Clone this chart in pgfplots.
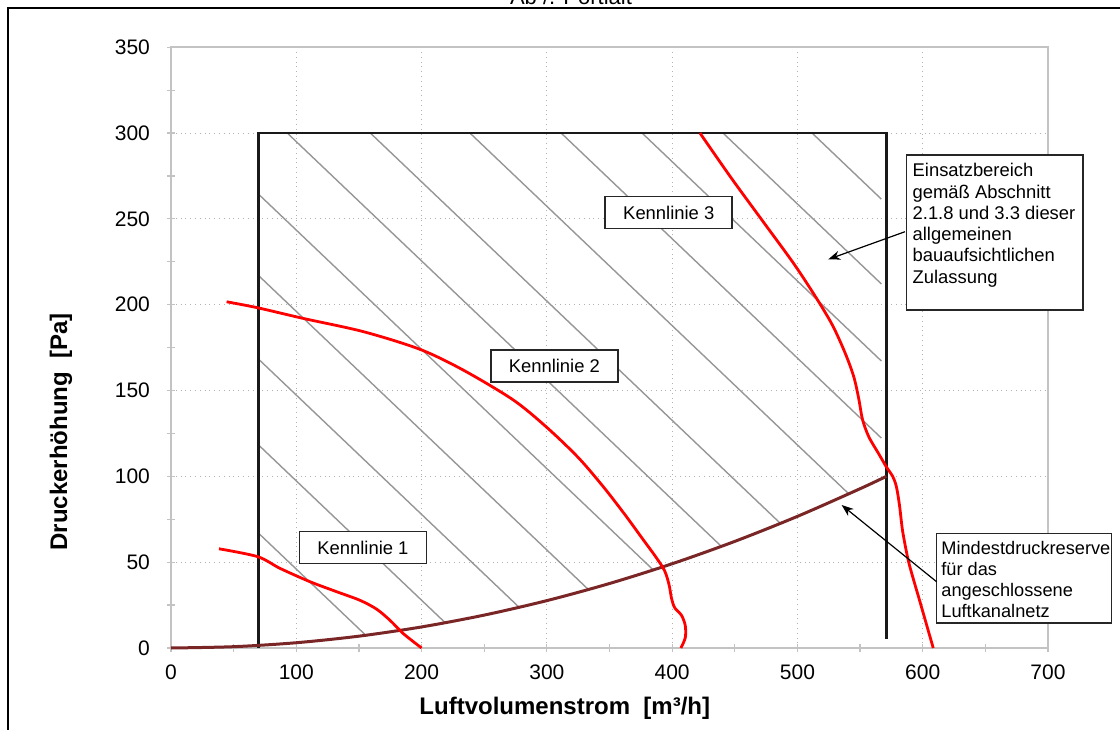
\documentclass[border=0pt]{standalone}
\usepackage{fontspec}
\setmainfont{Liberation Sans}
\usepackage{pgfplots}
\pgfplotsset{compat=1.18}
\usetikzlibrary{arrows.meta}

\definecolor{kurve}{RGB}{255,0,0}
\definecolor{netz}{RGB}{122,38,38}
\definecolor{schraff}{RGB}{150,150,150}
\definecolor{achse}{RGB}{195,195,195}

\begin{document}
\begin{tikzpicture}
\begin{axis}[
    scale only axis,
    width=438.5pt, height=300.4pt,
    xmin=0, xmax=700, ymin=0, ymax=350,
    xtick={0,100,...,700}, ytick={0,50,...,350},
    minor xtick={50,150,...,650}, minor ytick={25,75,...,325},
    xtick pos=bottom, ytick pos=left,
    xmajorgrids, ymajorgrids,
    major grid style={gray!60, dotted, line width=0.5pt},
    axis line style={achse, line width=0.8pt},
    major tick style={achse, line width=0.6pt},
    minor tick style={achse, line width=0.6pt},
    major tick length=4pt, minor tick length=4pt,
    tick align=center,
    /pgf/number format/assume math mode=true,
    ticklabel style={font=\fontsize{10.5}{12}\selectfont},
    xticklabel style={yshift=-3pt},
    yticklabel style={xshift=-5pt},
    xlabel={Luftvolumenstrom\ \ [m³/h]},
    ylabel={Druckerhöhung\ \ [Pa]},
    label style={font=\bfseries\fontsize{12}{14}\selectfont},
    xlabel style={at={(rel axis cs:0.449,-0.1)}, anchor=center},
    ylabel style={at={(rel axis cs:-0.1254,0.36)}, anchor=center},
    clip=false,
    hatch/.style={schraff, line width=0.7pt, forget plot},
    kennl/.style={kurve, line width=1.4pt, smooth, tension=0.5},
]

% Schraffur des Einsatzbereichs
\addplot[hatch] coordinates {(92.8,300) (439.3,59.2)};
\addplot[hatch] coordinates {(159.1,300) (486.4,72.6)};
\addplot[hatch] coordinates {(238.6,300) (541.0,89.8)};
\addplot[hatch] coordinates {(311.4,300) (567,122.3)};
\addplot[hatch] coordinates {(376.0,300) (567,167.2)};
\addplot[hatch] coordinates {(440.6,300) (567,212.1)};
\addplot[hatch] coordinates {(511.7,300) (567,261.5)};
\addplot[hatch] coordinates {(70,264.3) (384.9,45.5)};
\addplot[hatch] coordinates {(70,216.9) (333.1,34.1)};
\addplot[hatch] coordinates {(70,168.2) (277.9,23.7)};
\addplot[hatch] coordinates {(70,118.2) (218.9,14.7)};
\addplot[hatch] coordinates {(70,66.8) (155.5,7.4)};

% Einsatzbereich
\addplot[black!90, line width=1.3pt, line join=miter] coordinates {(70,0) (70,300) (571,300) (571,5)};

% Anlagenkennlinie (Luftkanalnetz)
\addplot[netz, line width=1.5pt, smooth] coordinates {
  (0,0) (50,0.77) (100,3.07) (150,6.90) (200,12.27) (250,19.17) (300,27.60)
  (350,37.57) (400,49.07) (450,62.11) (500,76.68) (550,92.78) (571,100)};

% Kennlinie 1
\addplot[kennl] coordinates {
  (38.3,57.8) (69.2,53.2) (87,46.4) (111,38.6) (132.2,32.8) (150.8,27.8)
  (164.2,22.6) (175,16) (185.4,8.4) (200,0)};

% Kennlinie 2
\addplot[kennl] coordinates {
  (44.4,201.7) (69.2,198.2) (105.6,192) (153.5,184.3) (198.7,174) (233.3,161.9)
  (273.2,144.5) (300,128.5) (325,111) (345,94) (362,78) (376,64) (387,53)
  (394,45) (397.5,37) (399.5,29) (402,23.5) (407.5,19) (410.5,13) (410.5,6) (407,0)};

% Kennlinie 3
\addplot[kennl] coordinates {
  (422.2,300) (447,274) (472,249) (497,224) (515,204) (528,188) (538,172)
  (545,158) (549,145) (552,133) (557,123) (565,113) (571,105.5) (576,100)
  (579,94) (581.5,83) (584,68) (588.4,51.3) (593,39) (597.8,27) (608.4,0)};

% Beschriftungen
\tikzset{kl/.style={draw=black!85, line width=0.8pt, fill=white, minimum width=63.5pt,
  minimum height=16pt, inner sep=0pt, font=\fontsize{9.2}{11}\selectfont}}
\node[kl] at (axis cs:153.2,58.5) {Kennlinie 1};
\node[kl] at (axis cs:306,164.2) {Kennlinie 2};
\node[kl] at (axis cs:397.3,253.7) {Kennlinie 3};

\draw[black!85, line width=0.8pt, fill=white] (axis cs:587.2,287.2) rectangle (axis cs:728.1,196.9);
\node[anchor=north west, align=left, inner sep=0pt, font=\fontsize{9.2}{10.65}\selectfont]
  at ([xshift=2.8pt, yshift=-4pt]axis cs:587.2,287.2)
  {Einsatzbereich\\gemäß Abschnitt\\2.1.8 und 3.3 dieser\\allgemeinen\\bauaufsichtlichen\\Zulassung};

\draw[black!85, line width=0.8pt, fill=white] (axis cs:611.1,66.8) rectangle (axis cs:750.8,14.4);
\node[anchor=north west, align=left, inner sep=0pt, font=\fontsize{9.1}{10.5}\selectfont]
  at ([xshift=2.2pt, yshift=-4pt]axis cs:611.1,66.8)
  {Mindestdruckreserve\\für das\\angeschlossene\\Luftkanalnetz};

\draw[-{Stealth[length=6pt,width=4.5pt]}, line width=0.6pt] (axis cs:585.8,242.5) -- (axis cs:524.6,226.4);
\draw[-{Stealth[length=6pt,width=4.5pt]}, line width=0.6pt] (axis cs:611.1,38.6) -- (axis cs:535.3,83.3);
\end{axis}

% Rahmen und angeschnittene Überschrift
\draw[line width=1pt] (-81.5pt,-60pt) -- (-81.5pt,320pt) -- (500pt,320pt);
\node[anchor=base, font=\fontsize{11}{13}\selectfont] at (200pt,321.8pt) {Ab /. Portlait};

\pgfresetboundingbox
\useasboundingbox (-85.5pt,-40.5pt) rectangle (474.5pt,324pt);
\end{tikzpicture}
\end{document}
